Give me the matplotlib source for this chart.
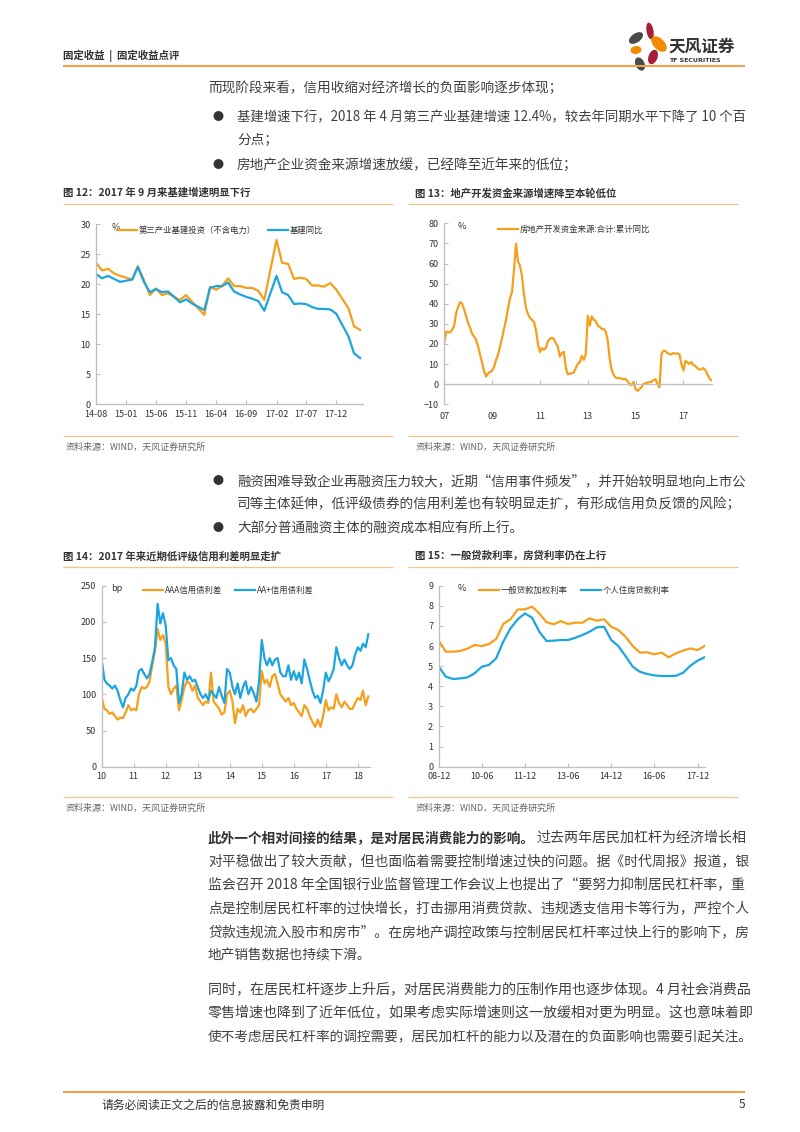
import matplotlib
matplotlib.use('Agg')
import matplotlib.pyplot as plt
from matplotlib.patches import Ellipse
import pandas as pd

plt.rcParams['font.family'] = ['Noto Sans CJK SC', 'DejaVu Sans']

W, H = 800, 1132
ORANGE = '#F5A01C'
BLUE = '#1DA5DF'
AXC = '#BFBFBF'
TXT = '#404040'
LINE_OR = '#F0A050'
RIGHT = 745

# ---- fig 12: infrastructure investment growth (%), monthly, no January print
infra_dates = [d for d in pd.date_range('2014-08-01', '2018-04-01', freq='MS') if d.month != 1]
infra_tertiary = [23.6, 22.3, 22.6, 21.8, 21.4,
                  20.8, 23.0, 20.7, 18.2, 19.3, 18.2, 18.5, 17.9, 17.4, 18.2, 17.1,
                  14.9, 19.6, 19.1, 19.7, 21.0, 19.7, 19.7, 19.4, 19.4, 18.9, 17.4,
                  27.4, 23.6, 23.4, 20.9, 21.1, 20.9, 19.8, 19.8, 19.6, 20.2, 19.1,
                  16.0, 13.0, 12.4]
infra_yoy = [21.7, 21.0, 21.4, 20.9, 20.4,
             20.8, 22.9, 20.4, 18.7, 19.2, 18.7, 18.8, 17.9, 17.0, 17.5, 16.8,
             15.7, 19.4, 19.7, 19.7, 20.3, 18.8, 18.3, 17.9, 17.6, 17.2, 15.6,
             21.4, 18.7, 18.2, 16.7, 16.8, 16.7, 16.2, 15.9, 15.9, 15.8, 15.1,
             11.3, 8.5, 7.7]
infra_ticks = ['14-08', '15-01', '15-06', '15-11', '16-04', '16-09', '17-02', '17-07', '17-12']

# ---- fig 13: real estate development funding, cumulative yoy (%), monthly from 2007-01
re_funding = [20.9, 26.2, 25.9, 25.7, 27.0, 29.2, 35.3, 38.6, 40.8, 40.0, 37.0, 33.7,
              30.3, 27.9, 25.0, 23.7, 22.0, 18.7, 14.6, 10.4, 6.3, 3.8, 5.5, 6.0,
              6.8, 8.8, 12.1, 14.6, 18.7, 22.9, 27.5, 32.0, 37.8, 42.8, 46.0, 57.0,
              69.8, 61.0, 59.0, 54.0, 45.0, 38.0, 35.0, 33.0, 32.0, 31.0, 27.0, 20.0,
              16.0, 17.9, 17.1, 18.0, 21.2, 22.6, 23.0, 22.5, 20.4, 18.7, 13.8, 15.5,
              16.1, 8.0, 5.0, 5.2, 5.5, 5.8, 8.0, 10.1, 11.0, 14.1, 12.1, 15.0,
              34.0, 29.2, 33.7, 32.0, 31.5, 29.2, 28.5, 27.5, 27.5, 26.2, 22.0, 12.9,
              7.1, 4.6, 3.3, 3.0, 3.0, 2.8, 2.5, 2.6, 1.5, 0.0, -0.5, 1.2,
              -2.5, -3.3, -2.5, -1.5, 0.0, 0.5, 0.8, 1.0, 1.2, 2.0, 2.5, 0.0,
              -1.5, 15.1, 16.6, 16.5, 15.5, 15.0, 14.8, 15.5, 15.2, 15.3, 15.0, 10.0,
              6.8, 11.6, 11.0, 10.0, 11.0, 9.5, 9.1, 8.0, 7.3, 7.3, 8.0, 7.0,
              5.0, 3.0, 2.0]
re_years = ['07', '09', '11', '13', '15', '17']

# ---- fig 14: credit spreads (bp), monthly from 2010-01
spread_aaa = [96, 80, 78, 73, 75, 70, 65, 68, 67, 75, 85, 78,
              80, 78, 100, 110, 108, 110, 118, 140, 160, 190, 175, 182,
              170, 110, 100, 108, 112, 78, 92, 110, 118, 115, 105, 112,
              95, 90, 85, 90, 88, 130, 90, 85, 80, 72, 75, 100,
              105, 90, 60, 80, 75, 85, 70, 78, 80, 75, 80, 85,
              132, 115, 120, 110, 125, 128, 115, 100, 95, 90, 95, 85,
              88, 80, 75, 70, 85, 80, 70, 62, 55, 65, 55, 70,
              92, 78, 82, 80, 100, 88, 82, 90, 85, 80, 80, 88,
              95, 92, 105, 85, 97]
spread_aa_plus = [148, 120, 115, 112, 108, 112, 105, 92, 82, 95, 100, 108,
                  105, 112, 132, 135, 128, 122, 128, 145, 165, 225, 198, 212,
                  195, 147, 150, 140, 135, 88, 100, 130, 120, 125, 118, 120,
                  110, 100, 95, 100, 92, 105, 100, 95, 110, 98, 88, 135,
                  130, 110, 100, 115, 95, 110, 118, 100, 110, 102, 90, 118,
                  175, 150, 140, 150, 140, 148, 150, 130, 125, 125, 140, 120,
                  132, 120, 130, 115, 148, 135, 120, 105, 95, 98, 88, 105,
                  130, 118, 125, 135, 165, 150, 140, 148, 140, 135, 140, 155,
                  165, 160, 170, 165, 183]
spread_years = ['10', '11', '12', '13', '14', '15', '16', '17', '18']

# ---- fig 15: loan rates (%), quarterly from 2008-12
loan_rate = [6.27, 5.72, 5.72, 5.75, 5.87, 6.05, 6.0, 6.1, 6.35, 7.1, 7.33, 7.82, 7.82,
             7.96, 7.62, 7.18, 7.08, 7.24, 7.1, 7.16, 7.16, 7.38, 7.26, 7.33, 6.96,
             6.8, 6.46, 6.0, 5.67, 5.69, 5.59, 5.67, 5.44, 5.64, 5.77, 5.88, 5.8, 6.0]
mortgage_rate = [4.97, 4.48, 4.36, 4.39, 4.44, 4.64, 4.97, 5.06, 5.39, 6.22, 6.88, 7.33, 7.62,
                 7.41, 6.71, 6.25, 6.27, 6.3, 6.3, 6.41, 6.55, 6.71, 6.93, 6.96, 6.3,
                 6.0, 5.5, 4.97, 4.72, 4.61, 4.54, 4.51, 4.51, 4.52, 4.67, 5.02, 5.27, 5.44]
rate_ticks = ['08-12', '10-06', '11-12', '13-06', '14-12', '16-06', '17-12']

# ---- page text
intro = '而现阶段来看，信用收缩对经济增长的负面影响逐步体现；'
bullets_top = [['基建增速下行，2018 年 4 月第三产业基建增速 12.4%，较去年同期水平下降了 10 个百', '分点；'],
               ['房地产企业资金来源增速放缓，已经降至近年来的低位；']]
bullets_mid = [['融资困难导致企业再融资压力较大，近期“信用事件频发”，并开始较明显地向上市公',
                '司等主体延伸，低评级债券的信用利差也有较明显走扩，有形成信用负反馈的风险；'],
               ['大部分普通融资主体的融资成本相应有所上行。']]
para1_bold = '此外一个相对间接的结果，是对居民消费能力的影响。'
para1 = ['过去两年居民加杠杆为经济增长相',
         '对平稳做出了较大贡献，但也面临着需要控制增速过快的问题。据《时代周报》报道，银',
         '监会召开 2018 年全国银行业监督管理工作会议上也提出了“要努力抑制居民杠杆率，重',
         '点是控制居民杠杆率的过快增长，打击挪用消费贷款、违规透支信用卡等行为，严控个人',
         '贷款违规流入股市和房市”。在房地产调控政策与控制居民杠杆率过快上行的影响下，房',
         '地产销售数据也持续下滑。']
para2 = ['同时，在居民杠杆逐步上升后，对居民消费能力的压制作用也逐步体现。4 月社会消费品',
         '零售增速也降到了近年低位，如果考虑实际增速则这一放缓相对更为明显。这也意味着即',
         '使不考虑居民杠杆率的调控需要，居民加杠杆的能力以及潜在的负面影响也需要引起关注。']
source = '资料来源：WIND，天风证券研究所'

fig = plt.figure(figsize=(8, 11.32), dpi=100)
page = fig.add_axes([0, 0, 1, 1])
page.set_xlim(0, W)
page.set_ylim(H, 0)
page.axis('off')
renderer = fig.canvas.get_renderer()

BODY = 9.85


def put(x, y, s, size=BODY, **kw):
    kw.setdefault('color', TXT)
    return page.text(x, y, s, fontsize=size, va='center', **kw)


def fit(x, y, s, right=RIGHT, **kw):
    # full-width line: shrink / stretch the font a little so it ends at the margin
    t = put(x, y, s, **kw)
    w = t.get_window_extent(renderer).width
    scale = min(max((right - x) / w, 0.9), 1.04)
    t.set_fontsize(BODY * scale)
    return t


def rule(x0, x1, y, color=LINE_OR, lw=1.2):
    page.plot([x0, x1], [y, y], color=color, lw=lw, solid_capstyle='butt')


def make_axes(l, t, r, b):
    ax = fig.add_axes([l / W, 1 - b / H, (r - l) / W, (b - t) / H])
    ax.patch.set_alpha(0)
    for s in ['top', 'right']:
        ax.spines[s].set_visible(False)
    for s in ['left', 'bottom']:
        ax.spines[s].set_color(AXC)
        ax.spines[s].set_linewidth(0.9)
    ax.tick_params(direction='in', length=3, color=AXC, labelsize=6.5,
                   labelcolor='#333333', pad=4)
    return ax


def legend(ax, x, y, spacing=1.5):
    ax.legend(loc='center left', bbox_to_anchor=(x / W, 1 - y / H),
              bbox_transform=fig.transFigure, ncol=2, frameon=False, fontsize=6,
              handlelength=2.4, handletextpad=0.25, columnspacing=spacing,
              borderpad=0, borderaxespad=0, labelcolor='#333333')


# header
put(63, 56, '固定收益  |  固定收益点评', size=7.5, fontweight='bold', color='#333333')
rule(63, 745, 66, lw=1.5)
petals = [(636, 38, 9, 16, 55, '#4a4a4a'), (650, 31, 7, 17, -10, '#a51e36'),
          (659, 44, 11, 19, -45, '#f08a00'), (636, 50, 8, 11, 80, '#f08a00'),
          (653, 57, 9, 15, 20, '#a51e36'), (640, 64, 9, 14, -25, '#4a4a4a')]
for cx, cy, w, h, ang, c in petals:
    page.add_patch(Ellipse((cx, cy), w, h, angle=ang, color=c, lw=0))
put(668, 47, '天风证券', size=12, fontweight='bold', color='#333333')
put(669, 60, 'TF SECURITIES', size=4.5, fontweight='bold', color='#333333',
    family=['DejaVu Sans'])

# upper text
put(208, 88, intro)
y = 117
for lines in bullets_top:
    put(218, y, '●', size=8, ha='center', color='#333333')
    for i, ln in enumerate(lines):
        if i < len(lines) - 1:
            fit(237, y, ln)
        else:
            put(237, y, ln)
        y += 23.5
    y += 1

# figure boxes
fig_titles = [(63, 193, '图 12：2017 年 9 月来基建增速明显下行'),
              (415, 193, '图 13：地产开发资金来源增速降至本轮低位'),
              (63, 556, '图 14：2017 年来近期低评级信用利差明显走扩'),
              (415, 556, '图 15：一般贷款利率，房贷利率仍在上行')]
for x, yy, s in fig_titles:
    put(x, yy, s, size=7.5, fontweight='bold', color='#333333')
for x0, x1 in [(63, 393), (408, 738)]:
    for yy in [204, 436, 567, 797]:
        rule(x0, x1, yy, color='#F5C490', lw=0.9)
for x in [66, 416]:
    put(x, 447, source, size=6.5, color='#666666')
    put(x, 808, source, size=6.5, color='#666666')

# middle bullets
y = 481
for lines in bullets_mid:
    put(218, y, '●', size=8, ha='center', color='#333333')
    for i, ln in enumerate(lines):
        if i < len(lines) - 1:
            fit(237, y, ln)
        else:
            put(237, y, ln)
        y += 23.5
    y += 0.5

# paragraphs
tb = put(208, 838, para1_bold, fontweight='bold', color='#333333')
x_end = tb.get_window_extent(renderer).x1
fit(x_end + 1, 838, para1[0])
y = 861.5
for i, ln in enumerate(para1[1:]):
    if i < len(para1) - 2:
        fit(208, y, ln)
    else:
        put(208, y, ln)
    y += 23.5
y = 990
for ln in para2:
    fit(208, y, ln, right=RIGHT + 6)
    y += 23.5

# footer
rule(63, 745, 1092, lw=1.5)
put(101, 1105, '请务必阅读正文之后的信息披露和免责申明', size=8.5, color='#333333')
put(745, 1105, '5', size=8.5, ha='right', color='#333333')

# ---- chart 1
ax1 = make_axes(96, 224.3, 363.3, 404.3)
ax1.plot(infra_dates, infra_tertiary, color=ORANGE, lw=1.6, label='第三产业基建投资（不含电力）')
ax1.plot(infra_dates, infra_yoy, color=BLUE, lw=1.6, label='基建同比')
ax1.set_ylim(0, 30)
ax1.set_yticks(range(0, 31, 5))
ax1.set_xlim(pd.Timestamp('2014-08-01'), pd.Timestamp('2018-04-17'))
ax1.set_xticks(pd.to_datetime(['20' + t for t in infra_ticks], format='%Y-%m'))
ax1.set_xticklabels(infra_ticks)
ax1.text(0.06, 0.985, '%', transform=ax1.transAxes, fontsize=6.5, va='center', color='#333333')
legend(ax1, 117, 230, spacing=1.4)

# ---- chart 2
ax2 = make_axes(444.3, 223.3, 712.3, 404.3)
re_dates = pd.date_range('2007-01-01', periods=len(re_funding), freq='MS')
ax2.plot(re_dates, re_funding, color=ORANGE, lw=1.6, label='房地产开发资金来源:合计:累计同比')
ax2.set_ylim(-10, 80)
ax2.set_yticks(range(-10, 81, 10))
ax2.set_xlim(pd.Timestamp('2007-01-01'), pd.Timestamp('2018-03-18'))
ax2.spines['bottom'].set_position(('data', 0))
ax2.set_xticks(pd.to_datetime(['20' + t for t in re_years], format='%Y'))
ax2.set_xticklabels(re_years)
ax2.tick_params(axis='x', pad=20)
ax2.text(0.05, 0.985, '%', transform=ax2.transAxes, fontsize=6.5, va='center', color='#333333')
legend(ax2, 498, 229)

# ---- chart 3
ax3 = make_axes(101.7, 585.7, 370, 766.7)
sp_dates = pd.date_range('2010-01-01', periods=len(spread_aaa), freq='MS')
ax3.plot(sp_dates, spread_aaa, color=ORANGE, lw=1.6, label='AAA信用债利差')
ax3.plot(sp_dates, spread_aa_plus, color=BLUE, lw=1.6, label='AA+信用债利差')
ax3.set_ylim(0, 250)
ax3.set_yticks(range(0, 251, 50))
ax3.set_xlim(pd.Timestamp('2010-01-01'), pd.Timestamp('2018-05-20'))
ax3.set_xticks(pd.to_datetime(['20' + t for t in spread_years], format='%Y'))
ax3.set_xticklabels(spread_years)
ax3.text(0.035, 0.985, 'bp', transform=ax3.transAxes, fontsize=6.5, va='center', color='#333333')
legend(ax3, 142.7, 590, spacing=1.6)

# ---- chart 4
ax4 = make_axes(438.7, 585.7, 705.3, 766.7)
rate_dates = pd.date_range('2008-12-01', periods=len(loan_rate), freq='3MS')
ax4.plot(rate_dates, loan_rate, color=ORANGE, lw=1.6, label='一般贷款加权利率')
ax4.plot(rate_dates, mortgage_rate, color=BLUE, lw=1.6, label='个人住房贷款利率')
ax4.set_ylim(0, 9)
ax4.set_yticks(range(0, 10))
ax4.set_xlim(pd.Timestamp('2008-12-01'), pd.Timestamp('2018-03-10'))
ax4.set_xticks(pd.to_datetime(['20' + t for t in rate_ticks], format='%Y-%m'))
ax4.set_xticklabels(rate_ticks)
ax4.text(0.07, 0.985, '%', transform=ax4.transAxes, fontsize=6.5, va='center', color='#333333')
legend(ax4, 479, 590.7, spacing=1.5)

fig.savefig('out.png', dpi=100)
